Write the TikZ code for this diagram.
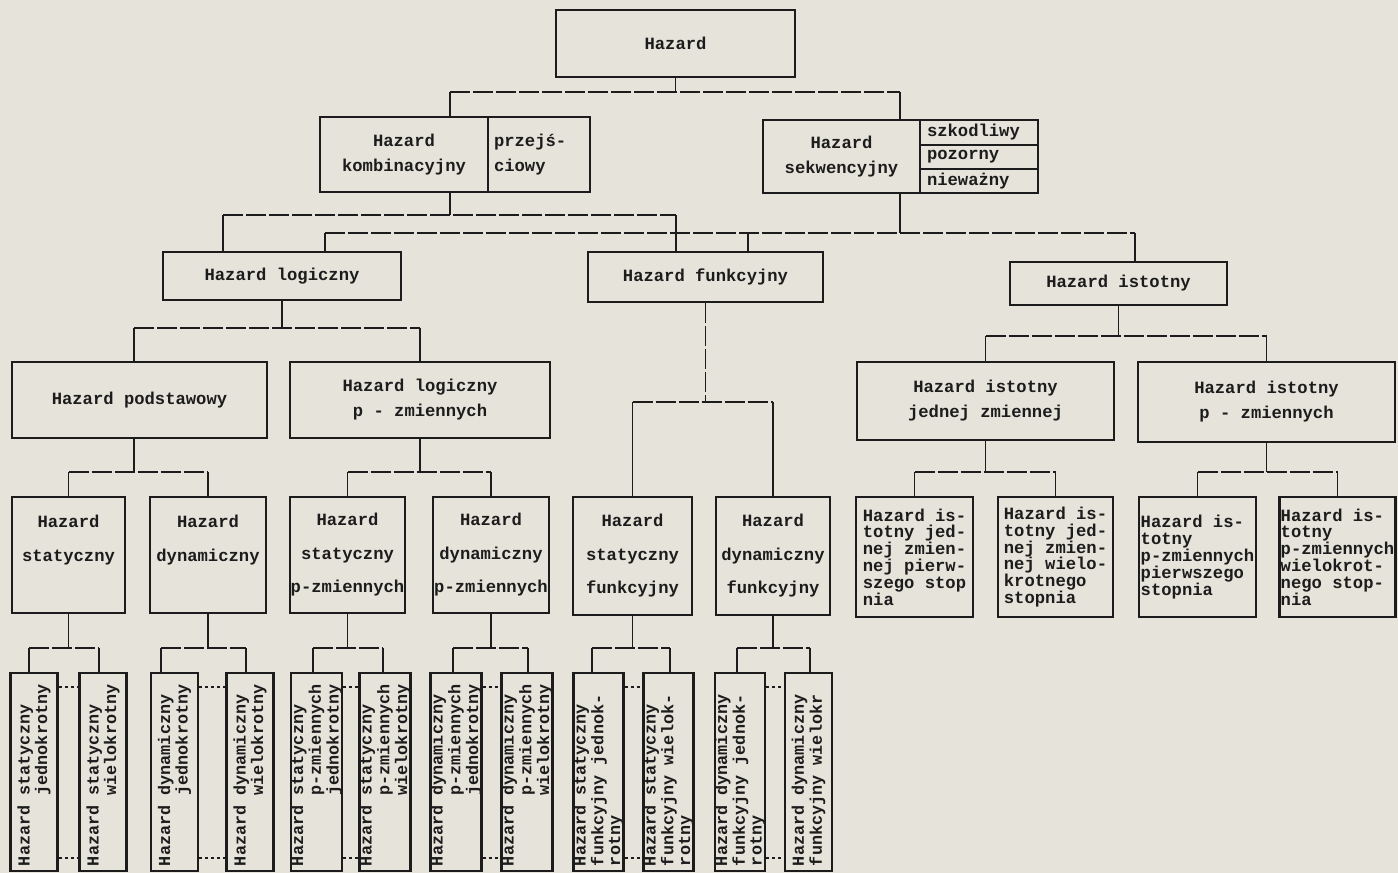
\documentclass[tikz,border=0pt]{standalone}
\usepackage{fontspec}
\usepackage{graphicx}
\newfontfamily\typewriter{Liberation Mono}
% typewriter face with a chosen line spacing
\newcommand\tw[1]{\typewriter\bfseries\fontsize{8.6}{#1}\selectfont}
% slightly smaller face for the upright columns
\newcommand\twsmall{\typewriter\bfseries\fontsize{8.4}{7}\selectfont}
% indent of seven typewriter characters ("Hazard ")
\newcommand\indentseven{\hspace*{4.2em}}
% text set upright in a narrow column, reading bottom to top
\newcommand\vtext[1]{\rotatebox{90}{\parbox{94pt}{\raggedright\hyphenpenalty=10000\exhyphenpenalty=10000 #1}}}
\definecolor{paper}{RGB}{229,227,218}
\definecolor{ink}{RGB}{28,28,28}
\tikzset{
  frame/.style={draw=ink, line width=1.25pt, inner sep=2pt, text=ink},
  box/.style={frame, align=center, font=\tw{12.5}},
  wh/.style 2 args={minimum width=#1*0.5pt, minimum height=#2*0.5pt},
  tallbox/.style={box, font=\tw{16.75}, inner xsep=0pt},
  lbox/.style={frame, align=left, inner xsep=0.5pt, font=\tw{8.4}},
  cell/.style={frame, align=left, text width=52pt, inner xsep=3.5pt, inner ysep=0pt, font=\tw{10}},
  vbox/.style={frame, inner sep=0pt, font=\twsmall, minimum width=23.5pt, minimum height=99pt},
  conn/.style={draw=ink, line width=0.7pt},
  bus/.style={conn, dash pattern=on 10pt off 1.5pt},
  pairlink/.style={draw=ink, line width=1pt, dash pattern=on 1.4pt off 1.6pt},
}
\begin{document}
\begin{tikzpicture}[x=0.5pt,y=-0.5pt]
\fill[paper] (0,0) rectangle (1398,873);
\useasboundingbox (0,0) rectangle (1398,873);

% ---- root
\node[box, wh={239}{67}] (top) at (675.5,43.5) {Hazard};

% ---- first split
\node[box, wh={168}{75}] (kombL) at (404,154.5) {Hazard\\kombinacyjny};
\node[box, wh={102}{75}, align=left, text width=45pt] (kombR) at (539,154.5) {przejś-\\ciowy};
\node[box, wh={157}{73}] (seqL) at (841.5,156.5) {Hazard\\sekwencyjny};
\node[cell, wh={118}{25}] (seqA) at (979,132.5) {szkodliwy};
\node[cell, wh={118}{24}] (seqB) at (979,157) {pozorny};
\node[cell, wh={118}{24}] (seqC) at (979,181) {nieważny};

% ---- second level
\node[box, wh={238}{48}] (log) at (282,276) {Hazard logiczny};
\node[box, wh={235}{50}] (fun) at (705.5,277) {Hazard funkcyjny};
\node[box, wh={217}{43}] (ist) at (1118.5,283.5) {Hazard istotny};

% ---- third level
\node[box, wh={255}{76}] (pod) at (139.5,400) {Hazard podstawowy};
\node[box, wh={260}{76}] (logp) at (420,400) {Hazard logiczny\\p - zmiennych};
\node[box, wh={257}{78}] (ist1) at (985.5,401) {Hazard istotny\\jednej zmiennej};
\node[box, wh={257}{80}] (istp) at (1266.5,402) {Hazard istotny\\p - zmiennych};

% ---- fourth level
\node[tallbox, wh={113}{116}] (s1) at (68.5,555) {Hazard\\statyczny\\\phantom{x}};
\node[tallbox, wh={116}{116}] (d1) at (208,555) {Hazard\\dynamiczny\\\phantom{x}};
\node[tallbox, wh={115}{116}] (sp) at (347.5,555) {Hazard\\statyczny\\p-zmiennych};
\node[tallbox, wh={116}{116}] (dp) at (491,555) {Hazard\\dynamiczny\\p-zmiennych};
\node[tallbox, wh={119}{118}] (sf) at (632.5,556) {Hazard\\statyczny\\funkcyjny};
\node[tallbox, wh={114}{118}] (df) at (773,556) {Hazard\\dynamiczny\\funkcyjny};
\node[lbox, wh={117}{120}] (iA) at (914.5,557) {Hazard is-\\totny jed-\\nej zmien-\\nej pierw-\\szego stop\\nia};
\node[lbox, wh={115}{120}] (iB) at (1055.5,557) {Hazard is-\\totny jed-\\nej zmien-\\nej wielo-\\krotnego\\stopnia};
\node[lbox, wh={117}{120}] (iC) at (1197.5,557) {Hazard is-\\totny\\p-zmiennych\\pierwszego\\stopnia};
\node[lbox, wh={115}{120}] (iD) at (1337.5,557) {Hazard is-\\totny\\p-zmiennych\\wielokrot-\\nego stop-\\nia};

% ---- fifth level (upright columns)
\node[vbox] (b1) at (34,772) {\vtext{Hazard statyczny\\\indentseven jednokrotny}};
\node[vbox] (b2) at (103,772) {\vtext{Hazard statyczny\\\indentseven wielokrotny}};
\node[vbox] (b3) at (174.5,772) {\vtext{Hazard dynamiczny\\\indentseven jednokrotny}};
\node[vbox] (b4) at (250,772) {\vtext{Hazard dynamiczny\\\indentseven wielokrotny}};
\node[vbox] (b5) at (316.5,772) {\vtext{Hazard statyczny\\\indentseven p-zmiennych\\\indentseven jednokrotny}};
\node[vbox] (b6) at (385,772) {\vtext{Hazard statyczny\\\indentseven p-zmiennych\\\indentseven wielokrotny}};
\node[vbox] (b7) at (456,772) {\vtext{Hazard dynamiczny\\\indentseven p-zmiennych\\\indentseven jednokrotny}};
\node[vbox] (b8) at (527,772) {\vtext{Hazard dynamiczny\\\indentseven p-zmiennych\\\indentseven wielokrotny}};
\node[vbox] (b9) at (598.5,772) {\vtext{Hazard statyczny\\funkcyjny jednok-\\rotny}};
\node[vbox] (b10) at (668.5,772) {\vtext{Hazard statyczny\\funkcyjny wielok-\\rotny}};
\node[vbox] (b11) at (740,772) {\vtext{Hazard dynamiczny\\funkcyjny jednok-\\rotny}};
\node[vbox] (b12) at (808.5,772) {\vtext{Hazard dynamiczny\\funkcyjny wielokr}};

% ---- rails and drop points
\coordinate (y0) at (0,92);
\coordinate (y1) at (0,215);
\coordinate (y2) at (0,233);
\coordinate (y3) at (0,328);
\coordinate (y4) at (0,336);
\coordinate (y5) at (0,402);
\coordinate (y6) at (0,472);
\coordinate (y7) at (0,648);
\coordinate (y8) at (0,687);
\coordinate (y9) at (0,858);
\coordinate (xk) at (450,0);
\coordinate (xs) at (900,0);
\coordinate (xa) at (223,0);
\coordinate (xb) at (676,0);
\coordinate (xc) at (325,0);
\coordinate (xd) at (748,0);
\coordinate (xe) at (1135,0);
\coordinate (xp) at (134,0);
\foreach \n/\x in {1/29,2/99,3/161,4/246,5/313,6/383,7/453,8/528,9/592,10/670,11/737,12/810}
  \coordinate (q\n) at (\x,0);

% root -> kombinacyjny, sekwencyjny
\draw[conn] (top.south) -- (top.south |- y0);
\draw[bus] (xk |- y0) -- (xs |- y0);
\draw[conn] (xk |- y0) -- (xk |- kombL.north);
\draw[conn] (xs |- y0) -- (xs |- seqL.north);

% kombinacyjny -> logiczny, funkcyjny
\draw[conn] (xk |- kombL.south) -- (xk |- y1);
\draw[bus] (xa |- y1) -- (xb |- y1);
\draw[conn] (xa |- y1) -- (xa |- log.north);
\draw[conn] (xb |- y1) -- (xb |- fun.north);

% sekwencyjny -> logiczny, funkcyjny, istotny
\draw[conn] (xs |- seqL.south) -- (xs |- y2);
\draw[bus] (xc |- y2) -- (xe |- y2);
\draw[conn] (xc |- y2) -- (xc |- log.north);
\draw[conn] (xd |- y2) -- (xd |- fun.north);
\draw[conn] (xe |- y2) -- (xe |- ist.north);

% logiczny -> podstawowy, p-zmiennych
\draw[conn] (log.south) -- (log.south |- y3);
\draw[bus] (xp |- y3) -- (logp.north |- y3);
\draw[conn] (xp |- y3) -- (xp |- pod.north);
\draw[conn] (logp.north |- y3) -- (logp.north);

% istotny -> jednej zmiennej, p-zmiennych
\draw[conn] (ist.south) -- (ist.south |- y4);
\draw[bus] (ist1.north |- y4) -- (istp.north |- y4);
\draw[conn] (ist1.north |- y4) -- (ist1.north);
\draw[conn] (istp.north |- y4) -- (istp.north);

% funkcyjny -> statyczny, dynamiczny
\draw[bus] (fun.south) -- (fun.south |- y5);
\draw[bus] (sf.north |- y5) -- (df.north |- y5);
\draw[conn] (sf.north |- y5) -- (sf.north);
\draw[conn] (df.north |- y5) -- (df.north);

% third level -> fourth level
\draw[conn] (xp |- pod.south) -- (xp |- y6);
\draw[conn] (logp.south) -- (logp.south |- y6);
\draw[conn] (ist1.south) -- (ist1.south |- y6);
\draw[conn] (istp.south) -- (istp.south |- y6);
\foreach \a/\b in {s1/d1, sp/dp, iA/iB, iC/iD} {
  \draw[bus] (\a.north |- y6) -- (\b.north |- y6);
  \draw[conn] (\a.north |- y6) -- (\a.north);
  \draw[conn] (\b.north |- y6) -- (\b.north);
}

% fourth level -> fifth level
\foreach \p/\a/\b/\l/\r in {s1/q1/q2/b1/b2, d1/q3/q4/b3/b4, sp/q5/q6/b5/b6,
                             dp/q7/q8/b7/b8, sf/q9/q10/b9/b10, df/q11/q12/b11/b12} {
  \draw[conn] (\p.south) -- (\p.south |- y7);
  \draw[bus] (\a |- y7) -- (\b |- y7);
  \draw[conn] (\a |- y7) -- (\a |- \l.north);
  \draw[conn] (\b |- y7) -- (\b |- \r.north);
  \draw[pairlink] (\l.east |- y8) -- (\r.west |- y8);
  \draw[pairlink] (\l.east |- y9) -- (\r.west |- y9);
}
\end{tikzpicture}
\end{document}
